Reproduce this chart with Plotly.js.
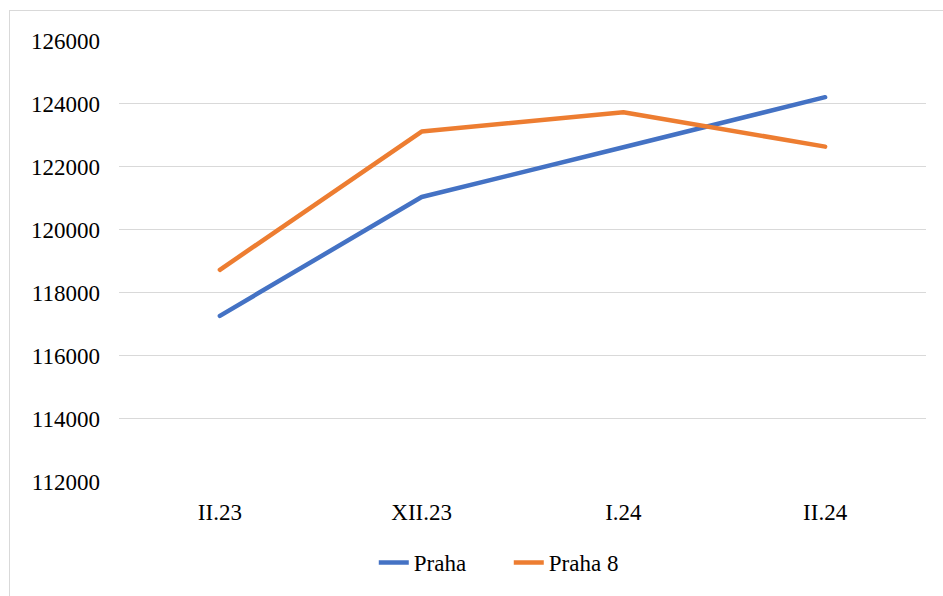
<!DOCTYPE html>
<html>
<head>
<meta charset="utf-8">
<script src="https://cdn.plot.ly/plotly-3.0.1.min.js"></script>
<style>
  html, body { margin: 0; padding: 0; background: #fff; }
  #wrap { position: relative; width: 943px; height: 596px; }
  #chart { width: 943px; height: 596px; }
  #frame { position: absolute; left: 9px; top: 10px; right: -2px; bottom: -2px;
           border: 1px solid #d9d9d9; pointer-events: none; }
  #chart .scatterlayer path.js-line { stroke-linecap: round; stroke-linejoin: round; }
</style>
</head>
<body>
<div id="wrap">
  <div id="chart"></div>
  <div id="frame"></div>
</div>
<script>
const categories = ["II.23", "XII.23", "I.24", "II.24"];
const prahaValues = [117260, 121030, 122610, 124200];
const praha8Values = [118720, 123110, 123720, 122630];
const seriesNames = ["Praha", "Praha 8"];
const yTicks = [112000, 114000, 116000, 118000, 120000, 122000, 124000, 126000];

const font = { family: "Times New Roman", size: 23, color: "#000" };

const traces = [
  { x: categories, y: prahaValues, name: seriesNames[0], type: "scatter", mode: "lines",
    line: { color: "#4472C4", width: 4.5 } },
  { x: categories, y: praha8Values, name: seriesNames[1], type: "scatter", mode: "lines",
    line: { color: "#ED7D31", width: 4.5 } }
];

const layout = {
  width: 943, height: 596,
  margin: { l: 119, r: 17, t: 40, b: 112 },
  paper_bgcolor: "#fff", plot_bgcolor: "#fff",
  font: font,
  showlegend: true,
  legend: { orientation: "h", x: 0.483, xanchor: "center", y: -0.182, yanchor: "middle",
            font: font, tracegroupgap: 0, entrywidth: 90 },
  xaxis: { type: "category", range: [-0.5, 3.5], showgrid: false, zeroline: false, showline: false,
           ticks: "", ticklabelstandoff: 14, tickfont: font, fixedrange: true },
  yaxis: { range: [111985, 126015], tickvals: yTicks, ticktext: yTicks.map(String),
           showgrid: true, gridcolor: "#d9d9d9", gridwidth: 1.3, zeroline: false,
           showline: false, ticks: "", ticklabelstandoff: 18, tickfont: font, fixedrange: true }
};

Plotly.newPlot("chart", traces, layout, { displayModeBar: false, staticPlot: true });
</script>
</body>
</html>
